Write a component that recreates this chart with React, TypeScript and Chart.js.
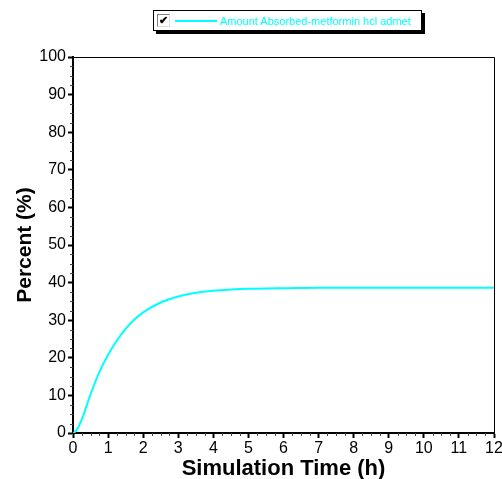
import React, { useEffect, useRef } from "react";
import { Chart, registerables } from "chart.js";

Chart.register(...registerables);

const timeH = [0, 0.1, 0.25, 0.5, 0.75, 1, 1.25, 1.5, 1.75, 2, 2.5, 3, 3.5, 4, 4.5, 5, 5.5, 6, 7, 8, 10, 12];
const amountAbsorbed = [0, 0.7, 3.6, 10.3, 16.2, 20.8, 24.6, 27.7, 30.2, 32.1, 34.7, 36.3, 37.3, 37.85, 38.15, 38.35, 38.45, 38.5, 38.6, 38.6, 38.6, 38.6];
const seriesLabel = "Amount Absorbed-metformin hcl admet";
const xTitle = "Simulation Time (h)";
const yTitle = "Percent (%)";

const FONT = "'Liberation Sans', Arial, sans-serif";

const framePlugin = {
  id: "frame",
  afterDraw(chart: any) {
    const { ctx, chartArea, scales } = chart;
    ctx.save();
    ctx.strokeStyle = "#000";
    ctx.lineWidth = 1;
    ctx.beginPath();
    ctx.moveTo(chartArea.left, chartArea.top + 0.5);
    ctx.lineTo(chartArea.right + 0.5, chartArea.top + 0.5);
    ctx.lineTo(chartArea.right + 0.5, chartArea.bottom);
    ctx.stroke();
    // minor ticks
    const xs = scales.x;
    const ys = scales.y;
    ctx.strokeStyle = "#444";
    ctx.beginPath();
    for (let v = 0; v <= 12.0001; v += 0.25) {
      if (Math.abs(v - Math.round(v)) < 1e-6) continue;
      const px = Math.round(xs.getPixelForValue(v)) + 0.5;
      ctx.moveTo(px, chartArea.bottom);
      ctx.lineTo(px, chartArea.bottom + 3);
    }
    for (let v = 0; v <= 100.0001; v += 2.5) {
      if (Math.abs(v / 10 - Math.round(v / 10)) < 1e-6) continue;
      const py = Math.round(ys.getPixelForValue(v)) + 0.5;
      ctx.moveTo(chartArea.left, py);
      ctx.lineTo(chartArea.left - 3, py);
    }
    ctx.stroke();
    ctx.restore();
  },
};

export default function App() {
  const ref = useRef<HTMLCanvasElement | null>(null);
  useEffect(() => {
    if (!ref.current) return;
    const chart = new Chart(ref.current, {
      type: "scatter",
      data: {
        datasets: [
          {
            label: seriesLabel,
            data: timeH.map((t, i) => ({ x: t, y: amountAbsorbed[i] })),
            showLine: true,
            borderColor: "#00FFFF",
            backgroundColor: "#00FFFF",
            borderWidth: 2,
            pointRadius: 0,
            cubicInterpolationMode: "monotone",
          },
        ],
      },
      options: {
        animation: false,
        responsive: false,
        maintainAspectRatio: false,
        layout: { padding: { left: 0, right: 8, top: 57, bottom: 0 } },
        plugins: { legend: { display: false }, tooltip: { enabled: false } },
        scales: {
          x: {
            type: "linear",
            min: 0,
            max: 12,
            ticks: { stepSize: 1, color: "#000", font: { family: FONT, size: 16 }, padding: 1, maxRotation: 0 },
            grid: { drawOnChartArea: false, drawTicks: true, tickLength: 5, tickColor: "#000", tickWidth: 2 },
            border: { color: "#000", width: 2 },
            title: { display: true, text: xTitle, color: "#000", font: { family: FONT, size: 22, weight: "bold" }, padding: { top: 0, bottom: -3 } },
            afterFit(scale: any) {
              scale.height = 46;
              scale.paddingLeft = 0;
              scale.paddingRight = 0;
            },
          },
          y: {
            min: 0,
            max: 100,
            ticks: { stepSize: 10, color: "#000", font: { family: FONT, size: 16 }, padding: 2 },
            grid: { drawOnChartArea: false, drawTicks: true, tickLength: 5, tickColor: "#000", tickWidth: 2 },
            border: { color: "#000", width: 2 },
            title: { display: true, text: yTitle, color: "#000", font: { family: FONT, size: 21, weight: "bold" }, padding: { top: 13, bottom: 0 } },
            afterFit(scale: any) {
              scale.width = 73;
              scale.paddingTop = 0;
              scale.paddingBottom = 0;
            },
          },
        },
      },
      plugins: [framePlugin],
    });
    return () => chart.destroy();
  }, []);

  return (
    <div style={{ position: "fixed", left: 0, top: 0, width: 502, height: 479, background: "#fff" }}>
      <canvas ref={ref} width={502} height={479} style={{ position: "absolute", left: 0, top: 0 }} />
      <div
        style={{
          position: "absolute",
          left: 153,
          top: 10,
          width: 269,
          height: 21,
          border: "1px solid #000",
          boxShadow: "3px 3px 0 #000",
          background: "#fff",
          display: "flex",
          alignItems: "center",
          fontFamily: FONT,
          fontSize: 11,
          color: "#00FFFF",
          boxSizing: "border-box",
        }}
      >
        <div
          style={{
            marginLeft: 3,
            width: 13,
            height: 13,
            borderTop: "1px solid #808080",
            borderLeft: "1px solid #808080",
            borderRight: "1px solid #ddd",
            borderBottom: "1px solid #ddd",
            boxSizing: "border-box",
            fontSize: 11,
            lineHeight: "11px",
            color: "#000",
            textAlign: "center",
            fontWeight: "bold",
          }}
        >
          ✔
        </div>
        <div style={{ marginLeft: 5, width: 42, height: 2, background: "#00FFFF" }} />
        <span style={{ marginLeft: 3, whiteSpace: "nowrap" }}>{seriesLabel}</span>
      </div>
    </div>
  );
}
